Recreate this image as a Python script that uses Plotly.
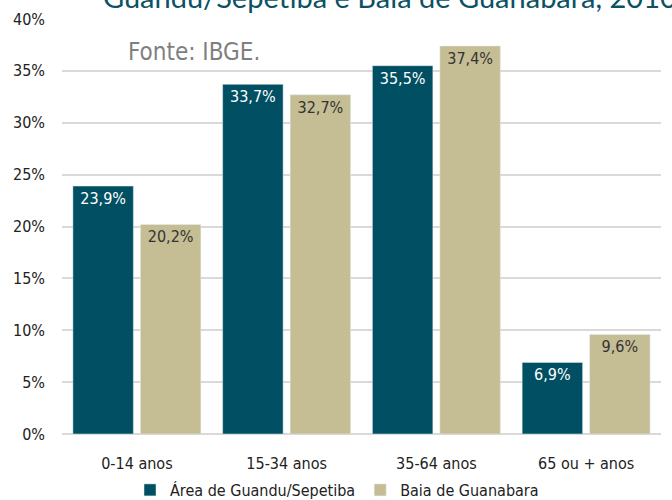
import plotly.graph_objects as go

categories = ["0-14 anos", "15-34 anos", "35-64 anos", "65 ou + anos"]
guandu = [23.9, 33.7, 35.5, 6.9]
guanabara = [20.2, 32.7, 37.4, 9.6]
series_names = ["Área de Guandu/Sepetiba", "Baia de Guanabara"]
y_ticks = [0, 5, 10, 15, 20, 25, 30, 35, 40]
y_ticklabels = [f"{v}%" for v in y_ticks]

FONT = "DejaVu Sans Condensed, Liberation Sans Narrow, sans-serif"
TITLE_FONT = "Lato, Noto Sans, sans-serif"
DARK = "#004f62"
TAN = "#c5bd94"

def fmt(v):
    return f"{v:.1f}".replace(".", ",") + "%"

fig = go.Figure()
fig.add_trace(go.Bar(
    x=categories, y=guandu, name=series_names[0], marker_color=DARK,
    text=[fmt(v) for v in guandu], textposition="inside", insidetextanchor="end",
    textfont=dict(color="white", size=16, family=FONT), textangle=0,
))
fig.add_trace(go.Bar(
    x=categories, y=guanabara, name=series_names[1], marker_color=TAN,
    text=[fmt(v) for v in guanabara], textposition="inside", insidetextanchor="end",
    textfont=dict(color="#333333", size=16, family=FONT), textangle=0,
))

fig.update_layout(
    width=672, height=500,
    margin=dict(l=62, r=11, t=19, b=66, autoexpand=False),
    paper_bgcolor="white", plot_bgcolor="white",
    barmode="group", bargap=0.0985, bargroupgap=0.104,
    font=dict(family=FONT, color="#222222", size=16),
    showlegend=True,
    legend=dict(orientation="h", x=(337 - 62) / 599, xanchor="center", y=-(490 - 434) / 415, yanchor="middle",
                font=dict(size=16, family=FONT, color="#222222"),
                itemwidth=30, tracegroupgap=0),
    xaxis=dict(showgrid=False, showline=False, ticks="", ticklabelstandoff=18,
               tickfont=dict(size=16, family=FONT)),
    yaxis=dict(range=[0, 40], tickvals=y_ticks, ticktext=y_ticklabels,
               showgrid=True, gridcolor="#d9d9d9", gridwidth=2, zeroline=True,
               zerolinecolor="#d9d9d9", zerolinewidth=2, ticklabelstandoff=16,
               showline=False, ticks="", tickfont=dict(size=16, family=FONT)),
    uniformtext=dict(minsize=10, mode="show"),
)

fig.add_annotation(
    text="Guandu/Sepetiba e Baía de Guanabara, 2010",
    xref="paper", yref="paper", x=(101 - 62) / 599, y=1.0, xanchor="left", yanchor="bottom",
    yshift=3, showarrow=False,
    font=dict(size=29, family=TITLE_FONT, color="#0b5264"),
)
fig.add_annotation(
    text="Fonte: IBGE.",
    xref="paper", yref="paper", x=(126 - 62) / 599, y=(434 - 52) / 415, xanchor="left", yanchor="middle",
    showarrow=False,
    font=dict(size=24, family=FONT, color="#7f7f7f"),
)

fig.write_html("out.html", config={"displayModeBar": False},
               post_script="document.body.style.margin='0';")
